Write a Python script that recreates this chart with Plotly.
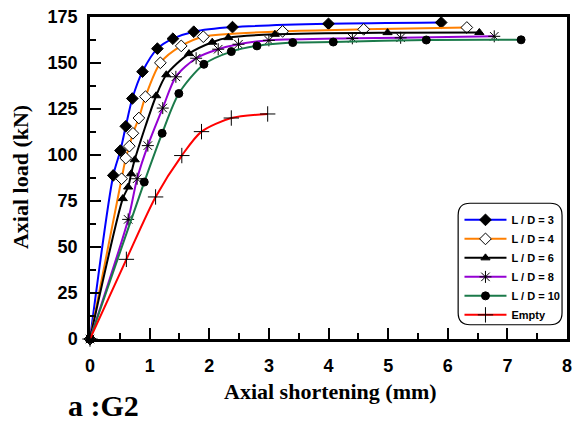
import plotly.graph_objects as go

# ---- data ----
ld3_x = [0, 0.39, 0.51, 0.60, 0.71, 0.88, 1.13, 1.39, 1.74, 2.39, 4.00, 5.89]
ld3_y = [0, 88.9, 102.4, 115.6, 130.7, 145.3, 157.8, 163.2, 167.0, 169.5, 171.3, 172.0]

ld4_x = [0, 0.53, 0.60, 0.66, 0.72, 0.82, 0.93, 1.18, 1.53, 1.90, 3.23, 4.59, 6.32]
ld4_y = [0, 87.1, 98.3, 104.8, 111.8, 120.1, 131.7, 150.1, 159.3, 164.3, 167.2, 168.3, 169.3]

ld6_x = [0, 0.55, 0.64, 0.69, 0.75, 1.11, 1.28, 1.66, 2.05, 2.32, 3.10, 4.99, 6.53]
ld6_y = [0, 76.3, 82.6, 89.8, 97.4, 132.2, 143.6, 155.1, 161.3, 163.8, 165.6, 166.5, 166.6]

ld8_x = [0, 0.64, 0.79, 0.97, 1.22, 1.44, 1.78, 2.15, 2.49, 3.00, 4.40, 5.21, 6.78]
ld8_y = [0, 65.0, 87.1, 105.1, 125.5, 142.5, 152.6, 157.5, 160.2, 162.3, 163.4, 163.7, 164.5]

ld10_x = [0, 0.91, 1.21, 1.49, 1.91, 2.37, 2.80, 3.40, 4.08, 5.64, 7.23]
ld10_y = [0, 85.3, 111.8, 133.4, 149.3, 156.2, 159.3, 161.1, 161.4, 162.5, 162.6]

empty_x = [0, 0.61, 1.10, 1.54, 1.87, 2.37, 2.98]
empty_y = [0, 43.3, 77.2, 99.7, 112.7, 120.1, 122.3]

names = ["L / D = 3", "L / D = 4", "L / D = 6", "L / D = 8", "L / D = 10", "Empty"]
xs = [ld3_x, ld4_x, ld6_x, ld8_x, ld10_x, empty_x]
ys = [ld3_y, ld4_y, ld6_y, ld8_y, ld10_y, empty_y]
line_colors = ["#0000FF", "#FF7F00", "#000000", "#9400D3", "#1B7A4A", "#FF0000"]
symbols = ["diamond", "diamond", "triangle-up", "asterisk-open", "circle", "cross-thin-open"]
m_sizes = [9, 9, 8, 10, 8, 11]
m_fill = ["black", "white", "black", "black", "black", "black"]

x_ticks = [0, 1, 2, 3, 4, 5, 6, 7, 8]
y_ticks = [0, 25, 50, 75, 100, 125, 150, 175]

fig = go.Figure()
for i in range(6):
    fig.add_trace(go.Scatter(
        x=xs[i], y=ys[i], name=names[i], mode="lines+markers",
        line=dict(color=line_colors[i], width=2, shape="spline", smoothing=0.8),
        marker=dict(symbol=symbols[i], size=m_sizes[i], color=m_fill[i],
                    line=dict(color="black", width=1)),
        cliponaxis=False,
    ))

tick_font = dict(family="Liberation Sans, Arial", size=18, color="black", weight="bold")
title_font = dict(family="Liberation Serif, Times New Roman", size=22, color="black", weight="bold")

fig.update_layout(
    width=579, height=421,
    margin=dict(l=90, r=7, t=16, b=82),
    paper_bgcolor="white", plot_bgcolor="white",
    showlegend=True,
    legend=dict(
        x=0.7746, y=0.415, xanchor="left", yanchor="top",
        bgcolor="rgba(0,0,0,0)", borderwidth=0,
        font=dict(family="Liberation Sans, Arial", size=11, color="black", weight="bold"),
        tracegroupgap=0, itemwidth=42,
    ),
    xaxis=dict(
        range=[0, 8], tickvals=x_ticks, ticktext=[str(v) for v in x_ticks],
        showgrid=False, zeroline=False,
        showline=True, linecolor="black", linewidth=2.5, mirror=True,
        ticks="inside", ticklen=11, tickwidth=2, tickcolor="black",
        minor=dict(dtick=0.5, ticks="inside", ticklen=6, tickwidth=2, tickcolor="black"),
        tickfont=tick_font, ticklabelstandoff=9,
    ),
    yaxis=dict(
        range=[0, 175], tickvals=y_ticks, ticktext=[str(v) for v in y_ticks],
        showgrid=False, zeroline=False,
        showline=True, linecolor="black", linewidth=2.5, mirror=True,
        ticks="inside", ticklen=11, tickwidth=2, tickcolor="black",
        minor=dict(dtick=12.5, ticks="inside", ticklen=6, tickwidth=2, tickcolor="black"),
        tickfont=tick_font, ticklabelstandoff=6,
    ),
)

# rounded legend frame
x0, x1 = 0.7718, 0.9896
y0, y1 = 0.0442, 0.4216
rx, ry = 0.0249, 0.0371
path = (f"M {x0+rx},{y1} L {x1-rx},{y1} Q {x1},{y1} {x1},{y1-ry} "
        f"L {x1},{y0+ry} Q {x1},{y0} {x1-rx},{y0} L {x0+rx},{y0} "
        f"Q {x0},{y0} {x0},{y0+ry} L {x0},{y1-ry} Q {x0},{y1} {x0+rx},{y1} Z")
fig.add_shape(type="path", path=path, xref="paper", yref="paper",
              line=dict(color="black", width=1.2), fillcolor="rgba(0,0,0,0)")

fig.add_annotation(text="Axial shortening (mm)", xref="paper", yref="paper",
                   x=(333 - 90) / 482, y=(339.3 - 392) / 323.3,
                   xanchor="center", yanchor="middle", showarrow=False, font=title_font)
fig.add_annotation(text="Axial load (kN)", xref="paper", yref="paper",
                   x=(20 - 90) / 482, y=(339.3 - 177) / 323.3, textangle=-90,
                   xanchor="center", yanchor="middle", showarrow=False, font=title_font)
fig.add_annotation(text="a :G2", xref="paper", yref="paper",
                   x=(66 - 90) / 482, y=(339.3 - 406) / 323.3,
                   xanchor="left", yanchor="middle", showarrow=False,
                   font=dict(family="Liberation Serif, Times New Roman", size=30,
                             color="black", weight="bold"))

fig.write_html("out.html", config={"displayModeBar": False},
               post_script="document.body.style.margin='0px';document.body.style.overflow='hidden';")
